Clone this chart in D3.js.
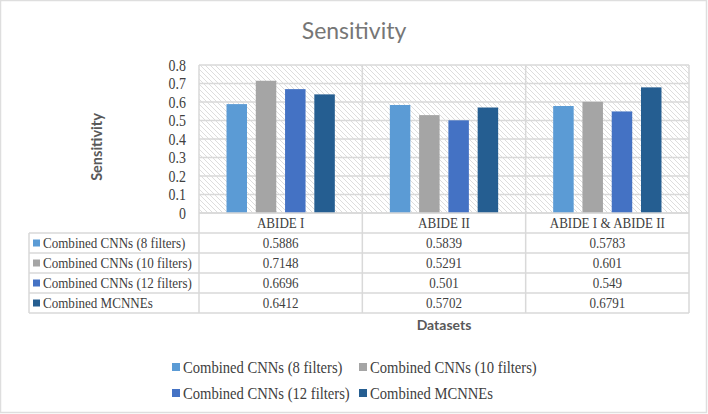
<!DOCTYPE html>
<html>
<head>
<meta charset="utf-8">
<script src="https://cdn.jsdelivr.net/npm/d3@7"></script>
<style>
  html, body { margin: 0; padding: 0; background: #fff; }
  svg { display: block; }
  .serif { font-family: "Liberation Serif", "Times New Roman", Tinos, "DejaVu Serif", serif; }
  .sans { font-family: Lato, "Open Sans", sans-serif; }
</style>
</head>
<body>
<svg id="chart" width="708" height="414"></svg>
<script>
// ---- data ----
const categories = ["ABIDE I", "ABIDE II", "ABIDE I & ABIDE II"];
const seriesNames = [
  "Combined CNNs (8 filters)",
  "Combined CNNs (10 filters)",
  "Combined CNNs (12 filters)",
  "Combined MCNNEs"
];
const cnn8 = [0.5886, 0.5839, 0.5783];
const cnn10 = [0.7148, 0.5291, 0.601];
const cnn12 = [0.6696, 0.501, 0.549];
const mcnne = [0.6412, 0.5702, 0.6791];
const yTicks = [0, 0.1, 0.2, 0.3, 0.4, 0.5, 0.6, 0.7, 0.8];
const yTickLabels = ["0", "0.1", "0.2", "0.3", "0.4", "0.5", "0.6", "0.7", "0.8"];
const colors = ["#5B9BD5", "#A5A5A5", "#4472C4", "#255E91"];

const seriesValues = [cnn8, cnn10, cnn12, mcnne];

// ---- layout ----
const svg = d3.select("#chart");
const W = 708, H = 414;
const plotL = 199, plotR = 689, plotT = 65, plotB = 213;
const tableL = 29, rowH = 20, headerH = 20;
const gridColor = "#d9d9d9";
const SX = 0.87; // horizontal squeeze of the serif text seen in the reference
const squeeze = (px, py) => `translate(${px},${py}) scale(${SX},1)`;

// outer border
svg.append("rect").attr("x", 0.5).attr("y", 0.5).attr("width", W - 2).attr("height", H - 2)
  .attr("fill", "#fff").attr("stroke", "#dedede").attr("stroke-width", 1.5);

// hatch pattern
const defs = svg.append("defs");
const pat = defs.append("pattern").attr("id", "hatch").attr("patternUnits", "userSpaceOnUse")
  .attr("width", 5).attr("height", 5);
pat.append("path").attr("d", "M-1,-1 L6,6 M-1,4 L1,6 M4,-1 L6,1")
  .attr("stroke", "#d9d9d9").attr("stroke-width", 0.9);

const x = d3.scaleBand().domain(categories).range([plotL, plotR]).padding(0);
const xi = d3.scaleBand().domain(seriesNames).range([0, x.bandwidth()])
  .paddingInner(0.3).paddingOuter(0.94);
const y = d3.scaleLinear().domain([0, 0.8]).range([plotB, plotT]);

// title
svg.append("text").attr("class", "sans").attr("x", 354).attr("y", 39).attr("text-anchor", "middle")
  .attr("font-size", 23).attr("fill", "#767676")
  .text("Sensitivity");

// plot background hatch
svg.append("rect").attr("x", plotL).attr("y", plotT).attr("width", plotR - plotL)
  .attr("height", plotB - plotT).attr("fill", "url(#hatch)");

// gridlines
svg.append("g").selectAll("line").data(yTicks).join("line")
  .attr("x1", plotL).attr("x2", plotR)
  .attr("y1", d => y(d)).attr("y2", d => y(d))
  .attr("stroke", gridColor).attr("stroke-width", 1.3);

// y axis labels
const yAxis = d3.axisLeft(y).tickValues(yTicks).tickFormat((d, i) => yTickLabels[i]).tickSize(0).tickPadding(13);
const gy = svg.append("g").attr("transform", `translate(${plotL},0)`).call(yAxis);
gy.attr("font-family", null);
gy.select(".domain").remove();
gy.selectAll("text").attr("class", "serif").attr("font-size", 16).attr("fill", "#404040")
  .attr("x", -13 / SX).attr("transform", `scale(${SX},1)`);

// bars
const groups = svg.append("g").selectAll("g").data(categories).join("g")
  .attr("transform", d => `translate(${x(d)},0)`);
groups.selectAll("rect").data((c, ci) => seriesNames.map((s, si) => ({ s, si, v: seriesValues[si][ci] })))
  .join("rect")
  .attr("x", d => xi(d.s)).attr("width", xi.bandwidth())
  .attr("y", d => y(d.v)).attr("height", d => y(0) - y(d.v))
  .attr("fill", d => colors[d.si]);

// table
const tableB = plotB + headerH + rowH * seriesNames.length;
const tg = svg.append("g").attr("stroke", gridColor).attr("stroke-width", 1.5).attr("fill", "none");
const colEdges = categories.map(c => x(c)).concat([plotR]);
tg.selectAll("line.v").data(colEdges).join("line").attr("class", "v")
  .attr("x1", d => d).attr("x2", d => d).attr("y1", plotT).attr("y2", tableB);
tg.append("line").attr("x1", tableL).attr("x2", tableL).attr("y1", plotB + headerH).attr("y2", tableB);
tg.append("line").attr("x1", plotL).attr("x2", plotR).attr("y1", plotB).attr("y2", plotB);
const rowLines = d3.range(seriesNames.length + 1).map(i => plotB + headerH + i * rowH);
tg.selectAll("line.h").data(rowLines).join("line").attr("class", "h")
  .attr("x1", tableL).attr("x2", plotR).attr("y1", d => d).attr("y2", d => d);

// header labels
svg.append("g").selectAll("text").data(categories).join("text").attr("class", "serif")
  .attr("transform", d => squeeze(x(d) + x.bandwidth() / 2, plotB + headerH / 2 + 5))
  .attr("text-anchor", "middle").attr("font-size", 15)
  .attr("fill", "#404040").text(d => d);

// row labels with markers
const rows = svg.append("g").selectAll("g").data(seriesNames).join("g")
  .attr("transform", (d, i) => `translate(0,${plotB + headerH + i * rowH})`);
rows.append("rect").attr("x", 33).attr("y", rowH / 2 - 3.5).attr("width", 7).attr("height", 7)
  .attr("fill", (d, i) => colors[i]);
rows.append("text").attr("class", "serif").attr("transform", squeeze(43, rowH / 2 + 5))
  .attr("font-size", 15).attr("fill", "#404040").text(d => d);
rows.selectAll("text.val").data((s, si) => categories.map((c, ci) => ({ c, v: seriesValues[si][ci] })))
  .join("text").attr("class", "val serif")
  .attr("transform", d => squeeze(x(d.c) + x.bandwidth() / 2, rowH / 2 + 5))
  .attr("text-anchor", "middle").attr("font-size", 15)
  .attr("fill", "#404040").text(d => String(d.v));

// axis titles
svg.append("text").attr("class", "sans").attr("transform", "translate(102,147) rotate(-90)")
  .attr("text-anchor", "middle").attr("font-weight", "bold")
  .attr("font-size", 14.5).attr("fill", "#595959").text("Sensitivity");
svg.append("text").attr("class", "sans").attr("x", (plotL + plotR) / 2).attr("y", 330)
  .attr("text-anchor", "middle").attr("font-weight", "bold")
  .attr("font-size", 14).attr("fill", "#595959").text("Datasets");

// legend
const legendPos = [[172, 367], [359, 367], [172, 393], [359, 393]];
const lg = svg.append("g").selectAll("g").data(seriesNames).join("g")
  .attr("transform", (d, i) => `translate(${legendPos[i][0]},${legendPos[i][1]})`);
lg.append("rect").attr("x", 0).attr("y", -4).attr("width", 8).attr("height", 8)
  .attr("fill", (d, i) => colors[i]);
lg.append("text").attr("class", "serif").attr("transform", squeeze(11, 5.5))
  .attr("font-size", 16.8).attr("fill", "#404040").text(d => d);
</script>
</body>
</html>
